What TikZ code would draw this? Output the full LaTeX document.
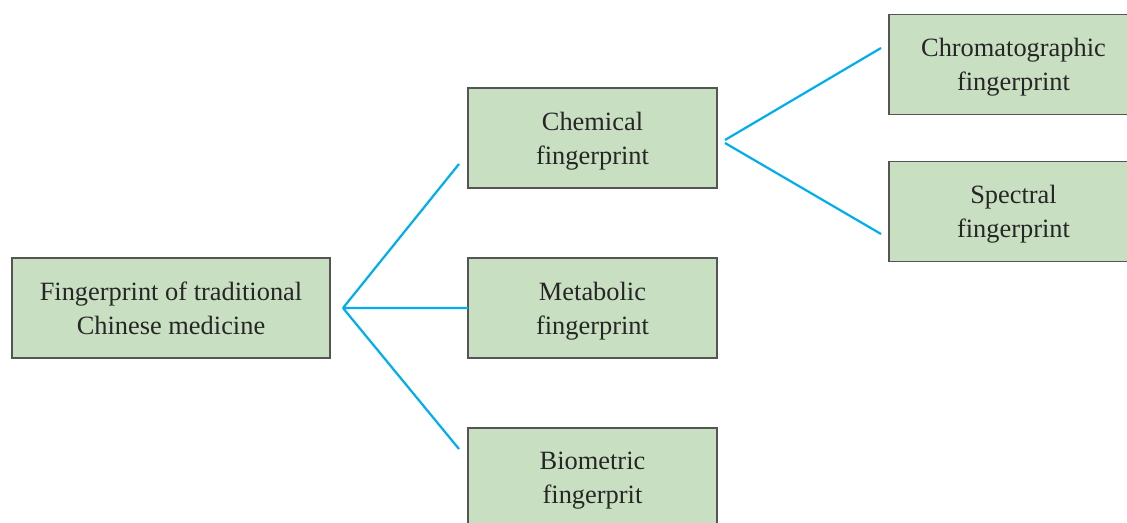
\documentclass[tikz,border=0pt]{standalone}
\usepackage{fontspec}
\setmainfont{Liberation Serif}
\usetikzlibrary{positioning}
\definecolor{boxgreen}{RGB}{200,224,193}
\definecolor{boxline}{RGB}{85,85,85}
\definecolor{linkblue}{RGB}{0,174,239}

\begin{document}
\begin{tikzpicture}[x=0.5pt,y=-0.5pt,node distance=35pt,
                    font=\fontsize{13.2}{17}\selectfont]
  \tikzstyle{every node}=[align=center,text=black!85,outer sep=0pt]
  \tikzstyle{leaf}=[fill=boxgreen,draw=boxline,line width=0.65pt,text depth=0pt,
                    minimum width=124.5pt,minimum height=50pt,inner sep=0pt]
  \tikzstyle{link}=[draw=linkblue,line width=1.1pt]

  \useasboundingbox (0,0) rectangle (1127,523);

  \node[leaf, minimum width=159pt] (tcm) at (171,308) {Fingerprint of traditional\\Chinese medicine};
  \node[leaf] (meta) [right=69pt of tcm]  {Metabolic\\fingerprint};
  \node[leaf] (chem) [above=35pt of meta] {Chemical\\fingerprint};
  \node[leaf] (bio)  [below=35pt of meta] {Biometric\\fingerprit};
  \node[leaf] (chrom) [right=86pt of chem, yshift=36.75pt]  {Chromatographic\\fingerprint};
  \node[leaf] (spec)  [right=86pt of chem, yshift=-36.75pt] {Spectral\\fingerprint};

  \coordinate (tcmOut)   at ([xshift=6.5pt]tcm.east);
  \coordinate (chemIn)   at ([xshift=-4.5pt,yshift=-13pt]chem.west);
  \coordinate (bioIn)    at ([xshift=-4.5pt,yshift=14.5pt]bio.west);
  \coordinate (chemOutA) at ([xshift=4pt,yshift=-1pt]chem.east);
  \coordinate (chemOutB) at ([xshift=4pt,yshift=-2.5pt]chem.east);
  \coordinate (chromIn)  at ([xshift=-4pt,yshift=8.25pt]chrom.west);
  \coordinate (specIn)   at ([xshift=-4pt,yshift=-11.25pt]spec.west);

  \path[link] (tcmOut) -- (chemIn)
              (tcmOut) -- (meta.west)
              (tcmOut) -- (bioIn)
              (chemOutA) -- (chromIn)
              (chemOutB) -- (specIn);
\end{tikzpicture}
\end{document}
